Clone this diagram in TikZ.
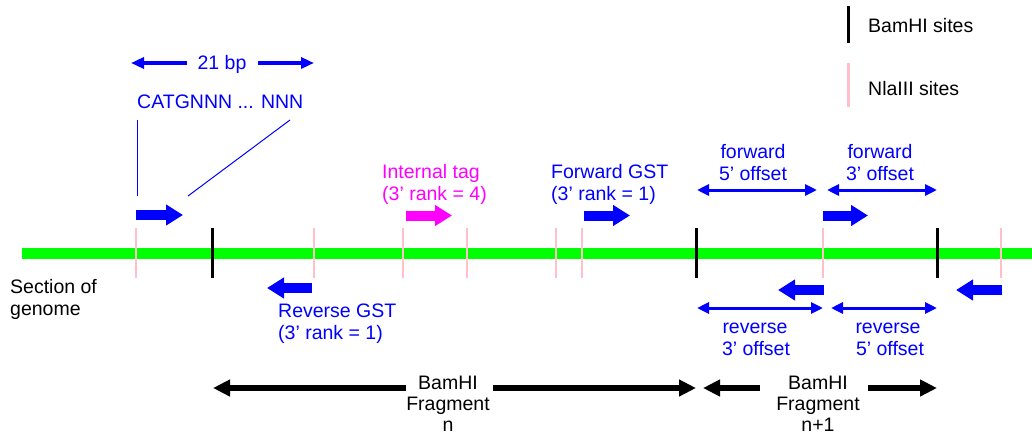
\documentclass[tikz,border=0pt]{standalone}
\usepackage{fontspec}
\setmainfont{Liberation Sans}
\usetikzlibrary{arrows.meta}
\definecolor{gstblue}{RGB}{0,0,255}
\definecolor{tagmag}{RGB}{255,0,255}
\definecolor{genome}{RGB}{0,255,0}
\definecolor{nlapink}{RGB}{255,192,203}
\begin{document}
\begin{tikzpicture}[x=1pt,y=-1pt,
  font=\fontsize{19.5}{22}\selectfont,
  every node/.style={inner sep=0pt},
  bluetxt/.style={text=gstblue},
  tag/.style={line width=10pt,-{Triangle[length=17pt,width=20pt]}},
  offspan/.style={gstblue,line width=3pt,
    {Triangle[length=12pt,width=11pt]}-{Triangle[length=12pt,width=11pt]}},
  bpspan/.style={gstblue,line width=4pt,-{Triangle[length=13pt,width=11pt]}},
  fragspan/.style={black,line width=6pt,-{Triangle[length=17pt,width=16pt]}},
  bamsite/.style={black,line width=3pt},
  nlasite/.style={nlapink,line width=2.2pt}]
\useasboundingbox (0,0) rectangle (1032,437);

% legend
\draw[bamsite] (848,6) -- (848,43);
\node[anchor=base west] (legbam) at (868,32) {BamHI sites};
\draw[nlasite,line width=3pt] (848,63) -- (848,107);
\node[anchor=base west] (legnla) at (868,95) {NlaIII sites};

% genome strand
\draw[genome,line width=11pt] (22,253) -- (1032,253);
\node[anchor=base west] (sec1) at (10,293) {Section of};
\node[anchor=base west] (sec2) at (10,315) {genome};

% restriction sites
\foreach \x in {136,314,403,467,556,582,823,1001}
  \draw[nlasite] (\x,228) -- (\x,278);
\foreach \x in {212,696,937}
  \draw[bamsite] (\x,228) -- (\x,278);

% tag length
\draw[bpspan] (187,63) -- (131,63);
\draw[bpspan] (258,63) -- (314,63);
\node[bluetxt,anchor=base] (bp) at (222,69) {21 bp};
\node[bluetxt,anchor=base west] (seq) at (137,108) {CATGNNN ... NNN};
\draw[gstblue,line width=1pt] (137,120) -- (137,196);
\draw[gstblue,line width=1pt] (290,120) -- (188,196);

% tags
\draw[tag,gstblue] (136,215) -- (183,215);
\draw[tag,tagmag] (406,215.5) -- (452,215.5);
\draw[tag,gstblue] (584,215.5) -- (630,215.5);
\draw[tag,gstblue] (823,215.5) -- (868,215.5);
\draw[tag,gstblue] (312,288) -- (267,288);
\draw[tag,gstblue] (824,290) -- (778,290);
\draw[tag,gstblue] (1002,290) -- (956,290);

\node[text=tagmag,anchor=base west] (int1) at (382,178) {Internal tag};
\node[text=tagmag,anchor=base west] (int2) at (382,200) {(3’ rank = 4)};
\node[bluetxt,anchor=base west] (fwd1) at (551,178) {Forward GST};
\node[bluetxt,anchor=base west] (fwd2) at (551,200) {(3’ rank = 1)};
\node[bluetxt,anchor=base west] (rev1) at (278,317) {Reverse GST};
\node[bluetxt,anchor=base west] (rev2) at (278,339) {(3’ rank = 1)};

% offsets
\draw[offspan] (697,190) -- (817,190);
\draw[offspan] (827,190) -- (937,190);
\draw[offspan] (697,308) -- (823,308);
\draw[offspan] (831,308) -- (937,308);
\node[bluetxt,anchor=base] (f5a) at (753,158) {forward};
\node[bluetxt,anchor=base] (f5b) at (753,180) {5’ offset};
\node[bluetxt,anchor=base] (f3a) at (880,158) {forward};
\node[bluetxt,anchor=base] (f3b) at (880,180) {3’ offset};
\node[bluetxt,anchor=base] (r3a) at (755,333) {reverse};
\node[bluetxt,anchor=base] (r3b) at (756,355) {3’ offset};
\node[bluetxt,anchor=base] (r5a) at (888,333) {reverse};
\node[bluetxt,anchor=base] (r5b) at (890,355) {5’ offset};

% fragments
\draw[fragspan] (406,388) -- (213,388);
\draw[fragspan] (493,388) -- (696,388);
\draw[fragspan] (760,388) -- (703,388);
\draw[fragspan] (868,388) -- (937,388);
\node[anchor=base] (fn1) at (448,389) {BamHI};
\node[anchor=base] (fn2) at (448,410.5) {Fragment};
\node[anchor=base] (fn3) at (448,431.5) {n};
\node[anchor=base] (fm1) at (818,389) {BamHI};
\node[anchor=base] (fm2) at (818,410.5) {Fragment};
\node[anchor=base] (fm3) at (818,431.5) {n+1};
\end{tikzpicture}
\end{document}
